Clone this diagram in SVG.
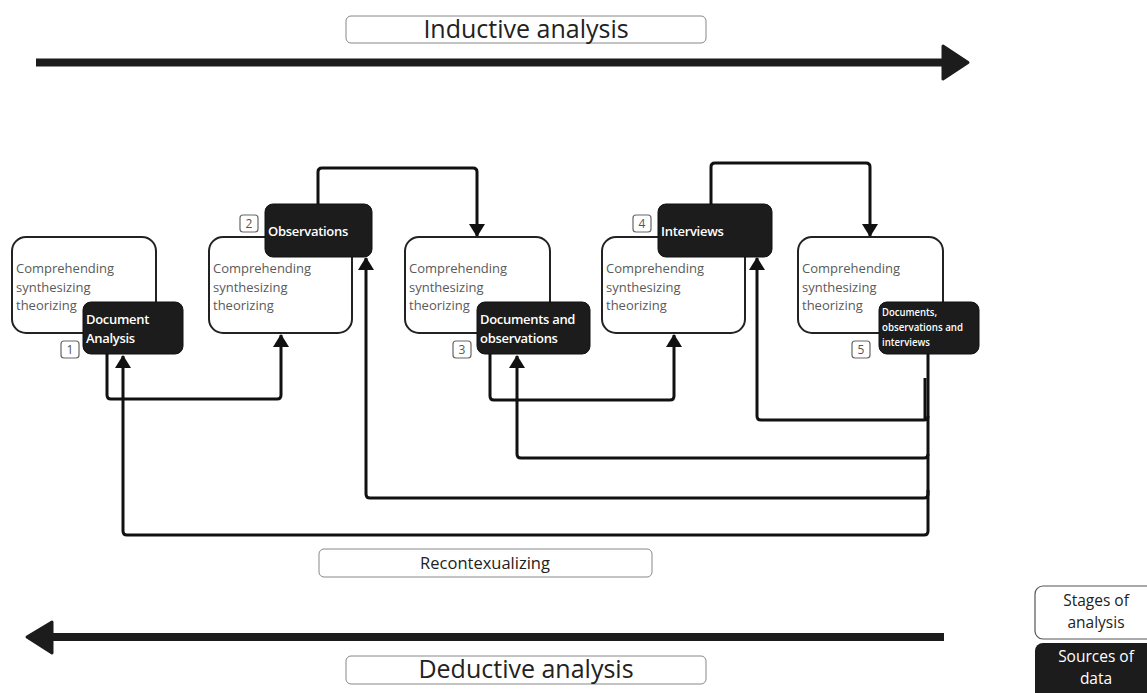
<svg xmlns="http://www.w3.org/2000/svg" width="1147" height="693" viewBox="0 0 1147 693">
<style>
.stage{fill:#fff;stroke:#222;stroke-width:2}
.src{fill:#1c1c1c;stroke:#111;stroke-width:1}
.st{font-family:"Open Sans","DejaVu Sans",sans-serif;font-size:13px;fill:#5a5a5a}
.sw{font-family:"Open Sans","DejaVu Sans",sans-serif;font-size:13px;font-weight:600;fill:#fff;letter-spacing:-0.3px}
.sm{font-family:"Open Sans","DejaVu Sans",sans-serif;font-size:10px;font-weight:600;fill:#fff}
.num{fill:#fff;stroke:#666;stroke-width:1.2}
.nt{font-family:"Open Sans","DejaVu Sans",sans-serif;font-size:12px;fill:#555;text-anchor:middle}
.lbl{fill:#fff;stroke:#888;stroke-width:1}
.lt{font-family:"Open Sans","DejaVu Sans",sans-serif;fill:#222;text-anchor:middle}
.lg{font-family:"Open Sans","DejaVu Sans",sans-serif;font-size:15.5px;text-anchor:middle}
.conn{fill:none;stroke:#111;stroke-width:3;stroke-linejoin:round}
.big{fill:none;stroke:#1c1c1c;stroke-width:8}
.head{fill:#1c1c1c;stroke:#1c1c1c;stroke-width:3;stroke-linejoin:round}
</style>
<defs>
<marker id="ah" viewBox="0 0 13 16" refX="12" refY="8" markerWidth="13" markerHeight="16" markerUnits="userSpaceOnUse" orient="auto">
<path d="M0,0 L13,8 L0,16 Z" fill="#111"/>
</marker>
</defs>

<g id="inductive">
<rect class="lbl" x="346" y="16" width="360" height="27" rx="5"/>
<text class="lt" x="526" y="38" font-size="25">Inductive analysis</text>
<line class="big" x1="36" y1="62.5" x2="950" y2="62.5"/>
<path class="head" d="M943,46 L968,62.5 L943,79 Z"/>
</g>

<g id="connectors">
<path class="conn" d="M107,354 V395 Q107,399 111,399 H277 Q281,399 281,395 V335" marker-end="url(#ah)"/>
<path class="conn" d="M318,204 V172 Q318,168 322,168 H473 Q477,168 477,172 V236" marker-end="url(#ah)"/>
<path class="conn" d="M490,354 V396 Q490,400 494,400 H670 Q674,400 674,396 V335" marker-end="url(#ah)"/>
<path class="conn" d="M711,204 V167 Q711,163 715,163 H866 Q870,163 870,167 V236" marker-end="url(#ah)"/>
<path class="conn" d="M928,354 V531 Q928,535 924,535 H127 Q123,535 123,531 V356" marker-end="url(#ah)"/>
<path class="conn" d="M928,490 V494 Q928,498 924,498 H370 Q366,498 366,494 V258" marker-end="url(#ah)"/>
<path class="conn" d="M928,454 Q928,458 924,458 H521 Q517,458 517,454 V356" marker-end="url(#ah)"/>
<path class="conn" d="M928,416 Q928,420 924,420 H761 Q757,420 757,416 V258" marker-end="url(#ah)"/>
<path class="conn" d="M925,378 V420"/>
</g>

<g id="stage1">
<rect class="stage" x="12" y="237" width="144" height="96" rx="14"/>
<text class="st" x="16" y="273">Comprehending</text>
<text class="st" x="16" y="292">synthesizing</text>
<text class="st" x="16" y="310">theorizing</text>
</g>
<g id="stage2">
<rect class="stage" x="209" y="237" width="143" height="96" rx="14"/>
<text class="st" x="213" y="273">Comprehending</text>
<text class="st" x="213" y="292">synthesizing</text>
<text class="st" x="213" y="310">theorizing</text>
</g>
<g id="stage3">
<rect class="stage" x="405" y="237" width="145" height="96" rx="14"/>
<text class="st" x="409" y="273">Comprehending</text>
<text class="st" x="409" y="292">synthesizing</text>
<text class="st" x="409" y="310">theorizing</text>
</g>
<g id="stage4">
<rect class="stage" x="602" y="237" width="143" height="96" rx="14"/>
<text class="st" x="606" y="273">Comprehending</text>
<text class="st" x="606" y="292">synthesizing</text>
<text class="st" x="606" y="310">theorizing</text>
</g>
<g id="stage5">
<rect class="stage" x="798" y="237" width="145" height="96" rx="14"/>
<text class="st" x="802" y="273">Comprehending</text>
<text class="st" x="802" y="292">synthesizing</text>
<text class="st" x="802" y="310">theorizing</text>
</g>

<g id="source1">
<rect class="src" x="83" y="302" width="100" height="52" rx="8"/>
<text class="sw" x="86" y="324">Document</text>
<text class="sw" x="86" y="343">Analysis</text>
</g>
<g id="source2">
<rect class="src" x="265" y="204" width="107" height="53" rx="8"/>
<text class="sw" x="268" y="236">Observations</text>
</g>
<g id="source3">
<rect class="src" x="477" y="302" width="113" height="52" rx="8"/>
<text class="sw" x="480" y="324">Documents and</text>
<text class="sw" x="480" y="343">observations</text>
</g>
<g id="source4">
<rect class="src" x="658" y="204" width="114" height="53" rx="8"/>
<text class="sw" x="661" y="236">Interviews</text>
</g>
<g id="source5">
<rect class="src" x="879" y="302" width="100" height="52" rx="8"/>
<text class="sm" x="882" y="316" textLength="55" lengthAdjust="spacingAndGlyphs">Documents,</text>
<text class="sm" x="882" y="331" textLength="81" lengthAdjust="spacingAndGlyphs">observations and</text>
<text class="sm" x="882" y="346" textLength="48" lengthAdjust="spacingAndGlyphs">interviews</text>
</g>

<g id="n1"><rect class="num" x="61" y="341" width="18" height="17" rx="3"/><text class="nt" x="70" y="354">1</text></g>
<g id="n2"><rect class="num" x="240" y="215" width="18" height="17" rx="3"/><text class="nt" x="249" y="228">2</text></g>
<g id="n3"><rect class="num" x="453" y="341" width="18" height="17" rx="3"/><text class="nt" x="462" y="354">3</text></g>
<g id="n4"><rect class="num" x="633" y="215" width="18" height="17" rx="3"/><text class="nt" x="642" y="228">4</text></g>
<g id="n5"><rect class="num" x="852" y="341" width="18" height="17" rx="3"/><text class="nt" x="861" y="354">5</text></g>

<g id="recontext">
<rect class="lbl" x="319" y="549" width="333" height="28" rx="5"/>
<text class="lt" x="485" y="569" font-size="16.5">Recontexualizing</text>
</g>

<g id="deductive">
<line class="big" x1="50" y1="637" x2="944" y2="637"/>
<path class="head" d="M52,622 L27,637 L52,653 Z"/>
<rect class="lbl" x="346" y="656" width="360" height="28" rx="5"/>
<text class="lt" x="526" y="678" font-size="25">Deductive analysis</text>
</g>

<g id="legend">
<rect x="1035" y="586" width="130" height="53" rx="8" fill="#fff" stroke="#555" stroke-width="1.2"/>
<text class="lg" x="1096" y="606" fill="#222">Stages of</text>
<text class="lg" x="1096" y="628" fill="#222">analysis</text>
<rect x="1035" y="643" width="130" height="60" rx="8" fill="#1c1c1c"/>
<text class="lg" x="1096" y="662" fill="#fff">Sources of</text>
<text class="lg" x="1096" y="684" fill="#fff">data</text>
</g>
</svg>
